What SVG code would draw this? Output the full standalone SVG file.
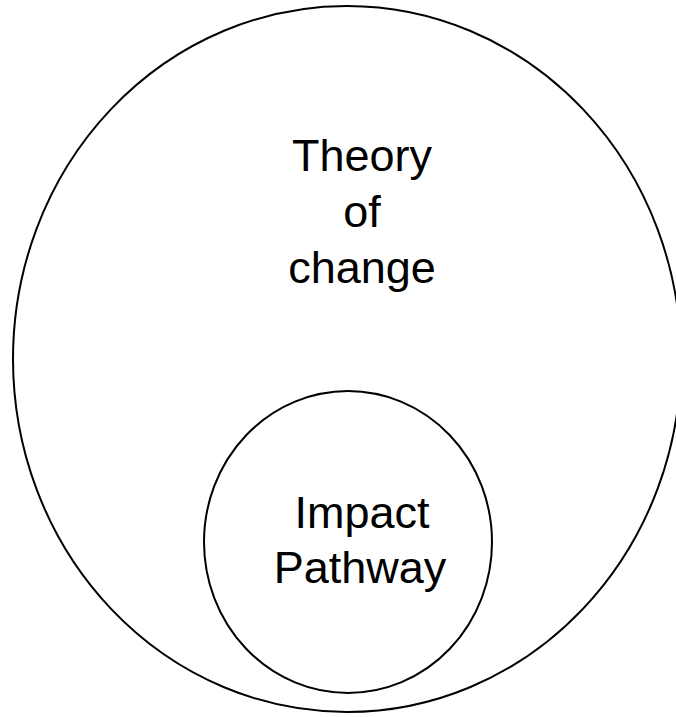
<svg xmlns="http://www.w3.org/2000/svg" width="676" height="717" viewBox="0 0 676 717">
<style>
.shape{fill:none;stroke:#000;stroke-width:2}
.lbl{font-family:"Liberation Sans",Arial,sans-serif;font-size:45px;fill:#000;text-anchor:middle}
</style>
<rect width="676" height="717" fill="#fff"/>
<g id="theory-of-change">
<ellipse class="shape" cx="347" cy="359" rx="334" ry="353"/>
<text class="lbl" x="362" y="171">Theory</text>
<text class="lbl" x="362" y="227">of</text>
<text class="lbl" x="362" y="283">change</text>
</g>
<g id="impact-pathway">
<ellipse class="shape" cx="348" cy="542" rx="144" ry="151"/>
<text class="lbl" x="362" y="528">Impact</text>
<text class="lbl" x="360" y="583">Pathway</text>
</g>
<g id="connectors"></g>
</svg>
